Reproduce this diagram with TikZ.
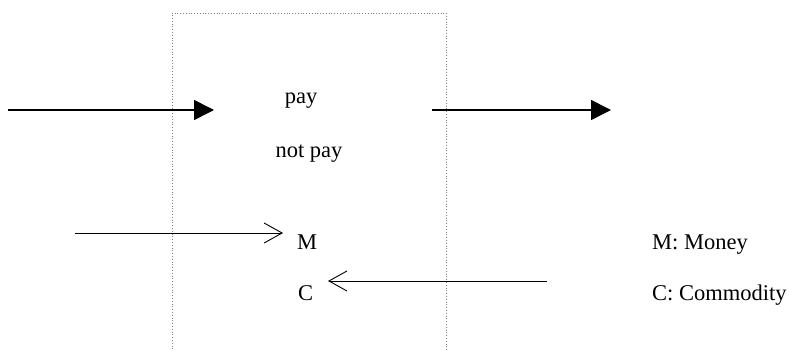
\documentclass[tikz,border=0pt]{standalone}
\usepackage{fontspec}
\setmainfont{Liberation Serif}
\usetikzlibrary{arrows.meta}
\begin{document}
\begin{tikzpicture}[x=1pt,y=1pt,
  lbl/.style={inner sep=0pt,anchor=base,font=\fontsize{22.5}{27}\selectfont},
  lbll/.style={lbl,anchor=base west},
  thickarrow/.style={line width=1.6pt,-{Triangle[length=20pt,width=20pt]}},
  thinarrow/.style={line width=0.9pt,-{Straight Barb[length=18pt,width=20pt,line width=0.9pt]}},
  boxline/.style={draw=gray,line width=0.8pt,dotted}]
\useasboundingbox (0,0) rectangle (789,-350);
\draw[boxline] (172,-352) -- (172,-13) -- (446,-13) -- (446,-352);
\coordinate (a1s) at (8,-110);
\coordinate (a1e) at (214,-110);
\coordinate (a2s) at (432,-110);
\coordinate (a2e) at (611,-110);
\coordinate (ms) at (75,-233);
\coordinate (me) at (283,-233);
\coordinate (cs) at (547,-281);
\coordinate (ce) at (328,-281);
\draw[thickarrow] (a1s) -- (a1e);
\draw[thickarrow] (a2s) -- (a2e);
\draw[thinarrow] (ms) -- (me);
\draw[thinarrow] (cs) -- (ce);
\node[lbl] (pay) at (301,-104) {pay};
\node[lbl] (notpay) at (309,-157) {not pay};
\node[lbll] (m) at (297,-249) {M};
\node[lbll] (c) at (298,-300) {C};
\node[lbll] (mm) at (652,-249) {M: Money};
\node[lbll] (cc) at (652,-300) {C: Commodity};
\end{tikzpicture}
\end{document}
